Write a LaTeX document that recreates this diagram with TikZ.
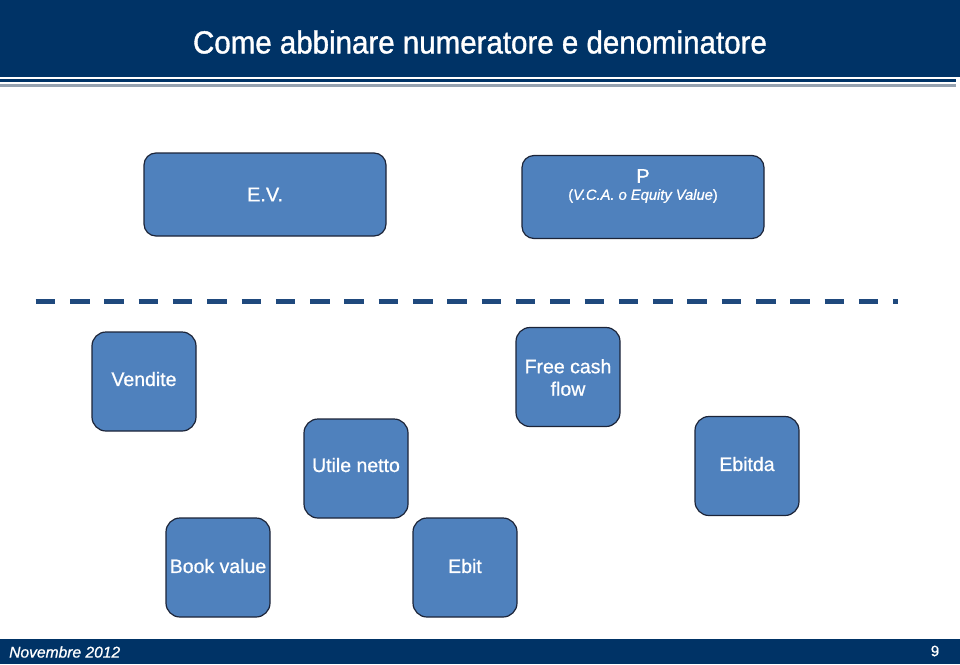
\documentclass[tikz,border=0pt]{standalone}
\usepackage{fontspec}
\setmainfont{Liberation Sans}
\newfontfamily\heavyfont{Liberation Sans}[FakeBold=1.2]
\newfontfamily\semifont{Liberation Sans}[FakeBold=0.8]
\definecolor{barblue}{RGB}{0,51,102}
\definecolor{boxblue}{RGB}{79,129,189}
\definecolor{boxline}{RGB}{28,36,56}
\definecolor{dashblue}{RGB}{31,73,125}
\definecolor{rulegray}{RGB}{150,162,176}
\begin{document}
\begin{tikzpicture}[
      x=1pt, y=-1pt,
      bar/.style={fill=barblue,draw=none},
      bigbox/.style={draw=boxline,line width=1.2pt,fill=boxblue,rounded corners=12pt,
        minimum width=242pt,minimum height=83pt,inner sep=0pt},
      smallbox/.style={draw=boxline,line width=1.2pt,fill=boxblue,rounded corners=14pt,
        minimum width=104pt,minimum height=99pt,inner sep=0pt},
      boxtext/.style={text=white,font=\semifont\fontsize{19.5}{22.5}\selectfont,align=center,inner sep=0pt},
      divider/.style={dashblue,line width=4.7pt,dash pattern=on 19.5pt off 14.8pt}
    ]
    \useasboundingbox (0,0) rectangle (960,664);
    % Draw the title bar.
    \fill[bar] (0,0) rectangle (960,77);
    \node[text=white,font=\heavyfont\fontsize{29.5}{34}\selectfont,inner sep=0pt,yscale=1.08] (title) at (480,42) {Come abbinare numeratore e denominatore};
    \draw[barblue,line width=2.5pt] (0,80.5) -- (956,80.5);
    \draw[rulegray,line width=2.5pt] (0,85.5) -- (956,85.5);
    % Draw the numerators.
    \node[bigbox] (ev) at (265,194.5) {};
    \node[boxtext,font=\semifont\fontsize{20}{24}\selectfont] (evtext) at (ev.center) {E.V.};
    \node[bigbox] (p) at (643,197) {};
    \node[boxtext,font=\semifont\fontsize{20}{24}\selectfont] (ptext) at (643,176) {P};
    \node[boxtext,font=\semifont\fontsize{14.7}{17}\selectfont] (psub) at (643,196) {(\textit{V.C.A. o Equity Value})};
    % Draw the separator.
    \coordinate (sepl) at (35.7,301.7);
    \coordinate (sepr) at (898,301.7);
    \draw[divider] (sepl) -- (sepr);
    % Draw the denominators.
    \node[smallbox] (vendite) at (144,381.5) {};
    \node[boxtext] (venditetext) at (144,379) {Vendite};
    \node[smallbox] (fcf) at (568,377) {};
    \node[boxtext] (fcftext) at (568,377.5) {Free cash\\flow};
    \node[smallbox] (utile) at (356,468.5) {};
    \node[boxtext] (utiletext) at (356,465) {Utile netto};
    \node[smallbox] (ebitda) at (747,466) {};
    \node[boxtext] (ebitdatext) at (747,464) {Ebitda};
    \node[smallbox] (book) at (218,567.5) {};
    \node[boxtext] (booktext) at (218,566) {Book value};
    \node[smallbox] (ebit) at (465,567.5) {};
    \node[boxtext] (ebittext) at (465,566) {Ebit};
    % Draw the footer.
    \fill[bar] (0,639) rectangle (960,664);
    \node[text=white,font=\semifont\fontsize{15.6}{18}\selectfont\itshape,anchor=west,inner sep=0pt] (date) at (9,652) {Novembre 2012};
    \node[text=white,font=\semifont\fontsize{15}{18}\selectfont,inner sep=0pt] (page) at (935,651) {9};
\end{tikzpicture}
\end{document}
